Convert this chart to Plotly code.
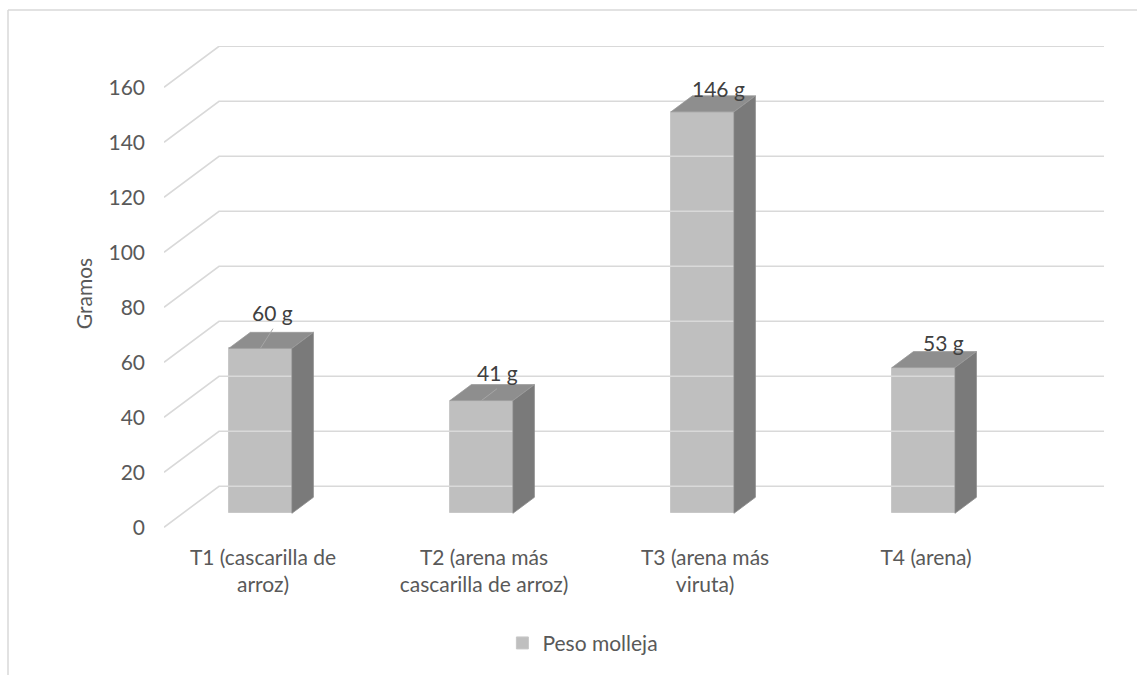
import plotly.graph_objects as go

# ---- data ----
categories = ["T1 (cascarilla de<br>arroz)", "T2 (arena más<br>cascarilla de arroz)",
              "T3 (arena más<br>viruta)", "T4 (arena)"]
values = [60, 41, 146, 53]
value_labels = ["60 g", "41 g", "146 g", "53 g"]
y_ticks = [0, 20, 40, 60, 80, 100, 120, 140, 160]
series_name = "Peso molleja"

# ---- 3D projection style (data units) ----
DX = 0.249      # horizontal shift for full depth (category units)
DY = 14.9       # vertical shift for full depth (value units)
D0, D1 = 0.34, 0.73   # bar front/back depth fraction
BAR_L, BAR_W = 0.209, 0.285  # bar left offset & width within category (front plane)
XMAX = 4.253
label_dy = [18.2, 15.4, 13.6, 14.3]   # label offsets above value (style)
label_dx = [0.493, 0.507, 0.507, 0.525]
leader = [True, True, False, False]

FRONT, SIDE, TOP = "#bfbfbf", "#7a7a7a", "#8e8e8e"
GRID = "#d9d9d9"
FONT = "Lato"

fig = go.Figure()

# 3D gridlines (diagonal on side wall + back wall horizontal)
gx, gy = [], []
for v in y_ticks:
    gx += [0, DX, XMAX, None]
    gy += [v, v + DY, v + DY, None]
fig.add_trace(go.Scatter(x=gx, y=gy, mode="lines", line=dict(color=GRID, width=1.6),
                         hoverinfo="skip", showlegend=False))

# side and top faces
for i, v in enumerate(values):
    xl = i + BAR_L + D0 * DX
    xr = xl + BAR_W
    ddx = (D1 - D0) * DX
    y0 = D0 * DY
    y1 = D1 * DY
    fig.add_trace(go.Scatter(
        x=[xr, xr + ddx, xr + ddx, xr, xr],
        y=[y0, y1, v + y1, v + y0, y0],
        fill="toself", fillcolor=SIDE, mode="lines",
        line=dict(color="#8a8a8a", width=0.8), hoverinfo="skip", showlegend=False))
    fig.add_trace(go.Scatter(
        x=[xl, xr, xr + ddx, xl + ddx, xl],
        y=[v + y0, v + y0, v + y1, v + y1, v + y0],
        fill="toself", fillcolor=TOP, mode="lines",
        line=dict(color="#9a9a9a", width=0.8), hoverinfo="skip", showlegend=False))

# front faces
fig.add_trace(go.Bar(
    x=[i + BAR_L + D0 * DX + BAR_W / 2 for i in range(len(values))],
    y=values, base=D0 * DY, width=BAR_W, name=series_name,
    marker=dict(color=FRONT, line=dict(color="#c8c8c8", width=1)),
    hoverinfo="skip"))

# leader lines
for i, v in enumerate(values):
    if leader[i]:
        xs = i + BAR_L + D0 * DX + BAR_W / 2
        fig.add_trace(go.Scatter(
            x=[xs, i + label_dx[i]], y=[v + D0 * DY, v + label_dy[i] - 6],
            mode="lines", line=dict(color="#a6a6a6", width=1),
            hoverinfo="skip", showlegend=False))

# data labels
for i, v in enumerate(values):
    fig.add_annotation(x=i + label_dx[i], y=v + label_dy[i], text=value_labels[i],
                       showarrow=False, font=dict(family=FONT, size=21, color="#404040"))

cat_pos = [i + 0.448 for i in range(len(categories))]

fig.update_layout(
    width=1147, height=675,
    margin=dict(l=164, r=43, t=46, b=134),
    paper_bgcolor="white", plot_bgcolor="white",
    font=dict(family=FONT, size=21, color="#595959"),
    bargap=0,
    showlegend=True,
    legend=dict(orientation="h", x=0.36, xanchor="left", y=0.047, yref="container",
                yanchor="middle", font=dict(family=FONT, size=21, color="#595959"),
                bgcolor="rgba(0,0,0,0)"),
    xaxis=dict(range=[0, XMAX], tickvals=cat_pos, ticktext=categories,
               showgrid=False, zeroline=False, showline=False, ticks="",
               ticklabelstandoff=2, fixedrange=True),
    yaxis=dict(range=[-5, 175], tickvals=y_ticks, showgrid=False, zeroline=False,
               showline=False, ticks="", ticklabelstandoff=18,
               title=dict(text="Gramos", standoff=10,
                          font=dict(family=FONT, size=21, color="#595959")),
               fixedrange=True),
    shapes=[
        dict(type="line", xref="paper", yref="paper", x0=-156/940, x1=(1137-164)/940,
             y0=1 + 36/495, y1=1 + 36/495, line=dict(color="#d9d9d9", width=1.5)),
        dict(type="line", xref="paper", yref="paper", x0=-156/940, x1=-156/940,
             y0=1 + 36/495, y1=-134/495, line=dict(color="#d9d9d9", width=1.5)),
    ],
)

fig.write_html("out.html")
